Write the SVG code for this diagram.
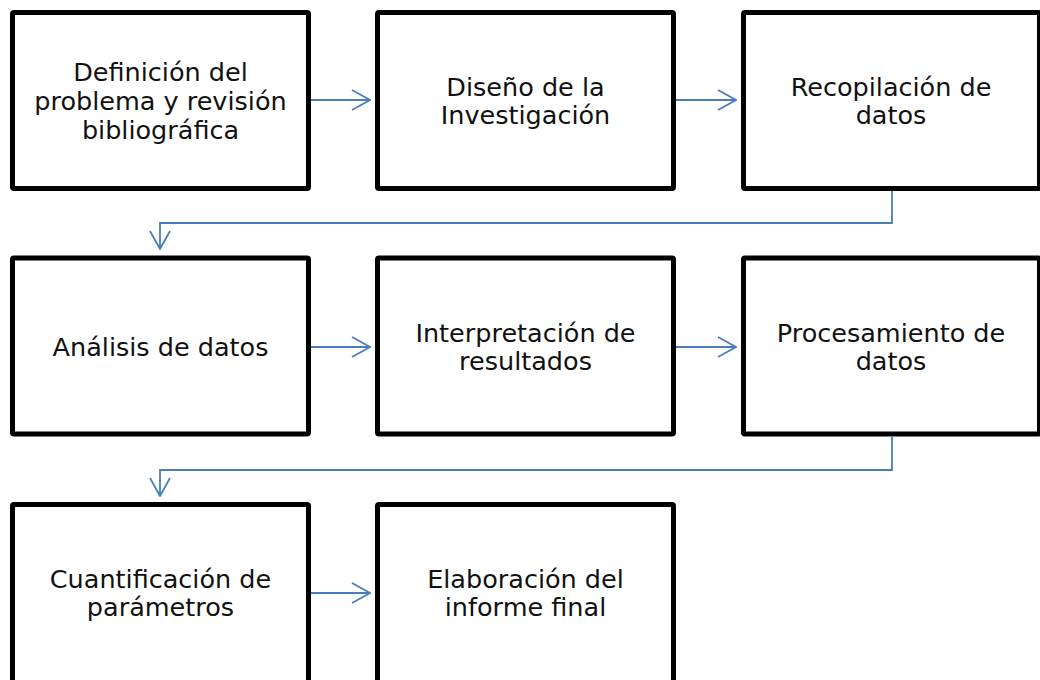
<svg xmlns="http://www.w3.org/2000/svg" width="1040" height="680" viewBox="0 0 1040 680">
<style>
.box{fill:#fff;stroke:#000;stroke-width:5;}
.t{font-family:"DejaVu Sans","Liberation Sans",sans-serif;font-size:25.5px;fill:#111;text-anchor:middle;}
.c{fill:none;stroke:#4a7ebb;stroke-width:1.8;}
</style>
<defs>
<marker id="ah" viewBox="0 0 20 22" refX="19" refY="11" markerWidth="20" markerHeight="22" markerUnits="userSpaceOnUse" orient="auto">
<path d="M1,1 L19,11 L1,21" fill="none" stroke="#4a7ebb" stroke-width="1.8"/>
</marker>
</defs>
<rect width="1040" height="680" fill="#fff"/>
<g id="connectors">
<line class="c" x1="311" y1="100" x2="370" y2="100" marker-end="url(#ah)"/>
<line class="c" x1="676" y1="100" x2="736" y2="100" marker-end="url(#ah)"/>
<polyline class="c" points="892,191 892,223 160,223 160,249" marker-end="url(#ah)"/>
<line class="c" x1="311" y1="347" x2="370" y2="347" marker-end="url(#ah)"/>
<line class="c" x1="676" y1="347" x2="736" y2="347" marker-end="url(#ah)"/>
<polyline class="c" points="892,437 892,470 160,470 160,496" marker-end="url(#ah)"/>
<line class="c" x1="311" y1="593" x2="370" y2="593" marker-end="url(#ah)"/>
</g>
<g id="n1"><rect class="box" x="12.5" y="12.5" width="296" height="176" rx="1.5"/><text class="t" x="160.5" y="81">Definición del</text><text class="t" x="160.5" y="110">problema y revisión</text><text class="t" x="160.5" y="139">bibliográfica</text></g>
<g id="n2"><rect class="box" x="377.5" y="12.5" width="296" height="176" rx="1.5"/><text class="t" x="525.5" y="96">Diseño de la</text><text class="t" x="525.5" y="124">Investigación</text></g>
<g id="n3"><rect class="box" x="743.5" y="12.5" width="296" height="176" rx="1.5"/><text class="t" x="891" y="96">Recopilación de</text><text class="t" x="891" y="124">datos</text></g>
<g id="n4"><rect class="box" x="12.5" y="258" width="296" height="176" rx="1.5"/><text class="t" x="160.5" y="356">Análisis de datos</text></g>
<g id="n5"><rect class="box" x="377.5" y="258" width="296" height="176" rx="1.5"/><text class="t" x="525.5" y="341.5">Interpretación de</text><text class="t" x="525.5" y="370">resultados</text></g>
<g id="n6"><rect class="box" x="743.5" y="258" width="296" height="176" rx="1.5"/><text class="t" x="891" y="341.5">Procesamiento de</text><text class="t" x="891" y="370">datos</text></g>
<g id="n7"><rect class="box" x="12.5" y="504.5" width="296" height="180" rx="1.5"/><text class="t" x="160.5" y="588">Cuantificación de</text><text class="t" x="160.5" y="616">parámetros</text></g>
<g id="n8"><rect class="box" x="377.5" y="504.5" width="296" height="180" rx="1.5"/><text class="t" x="525.5" y="588">Elaboración del</text><text class="t" x="525.5" y="616">informe final</text></g>
</svg>
